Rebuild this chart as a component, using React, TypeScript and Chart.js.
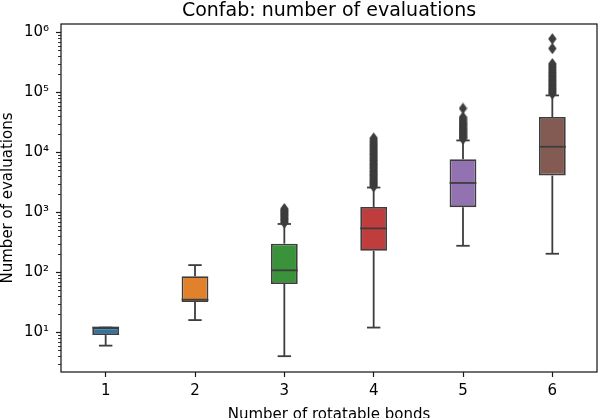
import React, { useEffect, useRef } from 'react';
import { Chart, registerables } from 'chart.js';

Chart.register(...registerables);

// ---- data ----
const categories = ['1', '2', '3', '4', '5', '6'];
const q1 = [9, 32, 64, 229, 1220, 4100];
const median = [12, 35, 108, 540, 3090, 12400];
const q3 = [12, 86, 300, 1230, 7700, 38900];
const whiskerLow = [6, 16, 4, 12, 277, 204];
const whiskerHigh = [12, 132, 640, 2590, 15800, 89000];

const outliers1: number[] = [];
const outliers2: number[] = [];
const outliers3 = [670, 700, 740, 770, 800, 850, 880, 920, 960, 1000, 1050, 1090, 1150];
const outliers4 = [2700, 2800, 2950, 3100, 3250, 3400, 3600, 3800, 4000, 4200, 4400, 4650, 4900, 5200, 5500, 5800, 6100, 6400, 6800, 7200, 7600, 8000, 8500, 9000, 9500, 10000, 10600, 11200, 11900, 12600, 13300, 14100, 15000, 16000, 17300];
const outliers5 = [16800, 17500, 18200, 19000, 19800, 20600, 21500, 22500, 23500, 24600, 25800, 27000, 28200, 29600, 31000, 32700, 34500, 36500, 38500, 54000];
const outliers6 = [95000, 99000, 104000, 109000, 114000, 120000, 126000, 132000, 139000, 146000, 153000, 161000, 170000, 179000, 188000, 199000, 210000, 222000, 235000, 250000, 265000, 282000, 300000, 540000, 780000];
const outliersByCategory = [outliers1, outliers2, outliers3, outliers4, outliers5, outliers6];

const majorTicks = [10, 100, 1000, 10000, 100000, 1000000];
const majorLabels = ['10¹', '10²', '10³', '10⁴', '10⁵', '10⁶'];
const yMin = 2.18;
const yMax = 1.38e6;

const boxColors = ['#3274a1', '#e1812c', '#3a923a', '#c03d3e', '#9372b2', '#845b53'];
const lineGray = '#3d3d3d';
const FONT = "'DejaVu Sans', sans-serif";

export default function App() {
  const ref = useRef<HTMLCanvasElement>(null);

  useEffect(() => {
    if (!ref.current) return;

    // thin diamond marker
    const marker = document.createElement('canvas');
    marker.width = 9;
    marker.height = 12;
    const mctx = marker.getContext('2d')!;
    mctx.fillStyle = lineGray;
    mctx.beginPath();
    mctx.moveTo(4.5, 0.3);
    mctx.lineTo(8.7, 6);
    mctx.lineTo(4.5, 11.7);
    mctx.lineTo(0.3, 6);
    mctx.closePath();
    mctx.fill();

    const outlierPoints: { x: string; y: number }[] = [];
    outliersByCategory.forEach((arr, i) => {
      arr.forEach((v) => outlierPoints.push({ x: categories[i], y: v }));
    });

    const boxPlugin = {
      id: 'boxWhiskers',
      afterDatasetsDraw(chart: any) {
        const { ctx } = chart;
        const ys = chart.scales.y;
        const meta = chart.getDatasetMeta(0);
        ctx.save();
        ctx.strokeStyle = lineGray;
        ctx.lineWidth = 1.8;
        const line = (x1: number, y1: number, x2: number, y2: number) => {
          ctx.beginPath();
          ctx.moveTo(x1, y1);
          ctx.lineTo(x2, y2);
          ctx.stroke();
        };
        categories.forEach((_, i) => {
          const bar = meta.data[i];
          const x = bar.x;
          const half = bar.width / 2;
          const yQ1 = ys.getPixelForValue(q1[i]);
          const yQ3 = ys.getPixelForValue(q3[i]);
          const yLo = ys.getPixelForValue(whiskerLow[i]);
          const yHi = ys.getPixelForValue(whiskerHigh[i]);
          const yMed = ys.getPixelForValue(median[i]);
          if (whiskerHigh[i] > q3[i]) line(x, yQ3, x, yHi);
          if (whiskerLow[i] < q1[i]) line(x, yQ1, x, yLo);
          line(x - half / 2, yHi, x + half / 2, yHi);
          line(x - half / 2, yLo, x + half / 2, yLo);
          line(x - half, yMed, x + half, yMed);
        });
        ctx.restore();
      },
    };

    const framePlugin = {
      id: 'frameAndMinor',
      afterDraw(chart: any) {
        const { ctx, chartArea } = chart;
        const ys = chart.scales.y;
        ctx.save();
        ctx.strokeStyle = '#1a1a1a';
        ctx.lineWidth = 1.25;
        ctx.strokeRect(chartArea.left, chartArea.top, chartArea.right - chartArea.left, chartArea.bottom - chartArea.top);
        ctx.lineWidth = 0.9;
        ys.ticks.forEach((t: any) => {
          const v = t.value;
          if (v < yMin || v > yMax) return;
          const e = Math.floor(Math.log10(v) + 1e-9);
          const s = v / Math.pow(10, e);
          const r = Math.round(s);
          if (Math.abs(s - r) < 1e-6 && r >= 2 && r <= 9) {
            const y = Math.round(ys.getPixelForValue(v)) + 0.5;
            ctx.beginPath();
            ctx.moveTo(chartArea.left - 3, y);
            ctx.lineTo(chartArea.left, y);
            ctx.stroke();
          }
        });
        ctx.restore();
      },
    };

    const chart = new Chart(ref.current, {
      type: 'bar',
      data: {
        labels: categories,
        datasets: [
          {
            type: 'bar',
            data: categories.map((_, i) => [q1[i], q3[i]]) as any,
            backgroundColor: boxColors,
            borderColor: lineGray,
            borderWidth: 1.8,
            borderSkipped: false,
            categoryPercentage: 1,
            barPercentage: 0.3,
          } as any,
          {
            type: 'line',
            data: outlierPoints as any,
            showLine: false,
            pointStyle: marker as any,
            pointRadius: 4,
            backgroundColor: lineGray,
            borderColor: lineGray,
          } as any,
        ],
      },
      options: {
        responsive: false,
        animation: false,
        events: [],
        layout: { autoPadding: false, padding: { left: 0, right: 1, top: 0, bottom: 0 } },
        plugins: {
          legend: { display: false },
          tooltip: { enabled: false },
          title: {
            display: true,
            fullSize: false,
            text: 'Confab: number of evaluations',
            color: '#000',
            font: { family: FONT, size: 19, weight: 'normal' as any, lineHeight: 1.2 },
            padding: { top: -0.2, bottom: 1.4 },
          },
        },
        scales: {
          x: {
            type: 'category',
            offset: true,
            afterFit: (scale: any) => {
              scale.height = 46;
              scale.paddingLeft = 0;
              scale.paddingRight = 0;
            },
            grid: {
              display: true,
              drawOnChartArea: false,
              drawTicks: true,
              offset: false,
              tickLength: 5,
              tickWidth: 1.2,
              tickColor: '#1a1a1a',
            },
            border: { display: false },
            ticks: {
              color: '#000',
              font: { family: FONT, size: 15 },
              padding: 5,
              maxRotation: 0,
            },
            title: {
              display: true,
              text: 'Number of rotatable bonds',
              color: '#000',
              font: { family: FONT, size: 15 },
              padding: { top: 0, bottom: -6.5 },
            },
          },
          y: {
            type: 'logarithmic',
            min: yMin,
            max: yMax,
            afterFit: (scale: any) => {
              scale.width = 61;
              scale.paddingTop = 0;
              scale.paddingBottom = 0;
            },
            grid: {
              display: true,
              drawOnChartArea: false,
              drawTicks: true,
              tickLength: 5,
              tickWidth: 1.2,
              tickColor: (ctx: any) => (ctx.tick && ctx.tick.label ? '#1a1a1a' : 'rgba(0,0,0,0)'),
            },
            border: { display: false },
            ticks: {
              autoSkip: false,
              color: '#000',
              font: { family: FONT, size: 15 },
              padding: 7,
              callback: (value: any) => {
                const i = majorTicks.indexOf(Number(value));
                return i >= 0 ? majorLabels[i] : '';
              },
            },
            title: {
              display: true,
              text: 'Number of evaluations',
              color: '#000',
              font: { family: FONT, size: 15 },
              padding: { top: -0.9, bottom: 0 },
            },
          },
        },
      },
      plugins: [boxPlugin, framePlugin],
    } as any);

    return () => chart.destroy();
  }, []);

  return (
    <div style={{ position: 'absolute', left: 0, top: 0, width: 598, height: 418, background: '#fff' }}>
      <canvas ref={ref} width={598} height={418} style={{ display: 'block' }} />
    </div>
  );
}
